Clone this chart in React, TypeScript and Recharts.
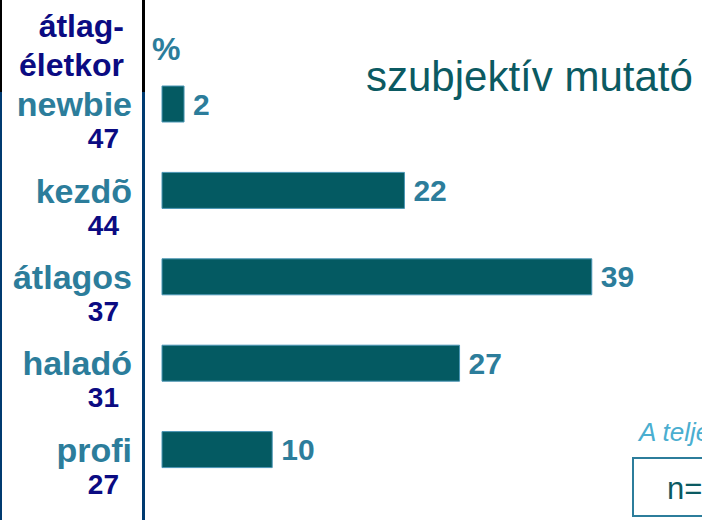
import { BarChart, Bar, XAxis, YAxis, LabelList } from 'recharts';

const categories = ['newbie', 'kezdõ', 'átlagos', 'haladó', 'profi'];
const percents = [2, 22, 39, 27, 10];
const ages = [47, 44, 37, 31, 27];

const data = categories.map((name, i) => ({ name, value: percents[i], age: ages[i] }));

const FONT = '"Liberation Sans", Arial, sans-serif';
const TEAL = '#2C7D9B';
const NAVY = '#0B0B82';

function CategoryTick(props: any) {
  const { y, index } = props;
  return (
    <g>
      <text x={132} y={y + 12} textAnchor="end" fill={TEAL} fontSize={34} fontWeight="bold" fontFamily={FONT}>
        {categories[index]}
      </text>
      <text x={119} y={y + 44} textAnchor="end" fill={NAVY} fontSize={28} fontWeight="bold" fontFamily={FONT}>
        {ages[index]}
      </text>
    </g>
  );
}

export default function App() {
  return (
    <div style={{ position: 'absolute', left: 0, top: 0, width: 702, height: 520, background: '#fff', overflow: 'hidden' }}>
      <BarChart width={702} height={520} data={data} layout="vertical" margin={{ top: 61, right: 0, bottom: 27, left: 0 }}>
        <XAxis type="number" domain={[0, 49]} hide />
        <YAxis type="category" dataKey="name" width={162} axisLine={false} tickLine={false} tick={<CategoryTick />} interval={0} />
        <Bar dataKey="value" barSize={36} fill="#045A62" stroke="#4A96B5" strokeWidth={1} isAnimationActive={false}>
          <LabelList dataKey="value" position="right" offset={9} fill={TEAL} fontSize={30} fontWeight="bold" fontFamily={FONT} />
        </Bar>
      </BarChart>
      <svg width={702} height={520} style={{ position: 'absolute', left: 0, top: 0, pointerEvents: 'none' }}>
        <rect x={0} y={0} width={2} height={92} fill="#000" />
        <rect x={0} y={92} width={2} height={428} fill="#003A70" />
        <rect x={142} y={0} width={3} height={92} fill="#000" />
        <rect x={142} y={92} width={3} height={428} fill="#003A70" />
        <text x={124} y={37} textAnchor="end" fill={NAVY} fontSize={32} fontWeight="bold" fontFamily={FONT}>átlag-</text>
        <text x={124} y={76} textAnchor="end" fill={NAVY} fontSize={32} fontWeight="bold" fontFamily={FONT}>életkor</text>
        <text x={152} y={60} fill={TEAL} fontSize={32} fontWeight="bold" fontFamily={FONT}>%</text>
        <text x={366} y={91} fill="#0B5A62" fontSize={42} fontFamily={FONT}>szubjektív mutató</text>
        <text x={639} y={441} fill="#4AAED0" fontSize={26} fontStyle="italic" fontFamily={FONT}>A teljes minta</text>
        <rect x={633} y={458} width={100} height={58} fill="none" stroke={TEAL} strokeWidth={2} />
        <text x={667} y={499} fill="#0B5A62" fontSize={31} fontFamily={FONT}>n=</text>
      </svg>
    </div>
  );
}
